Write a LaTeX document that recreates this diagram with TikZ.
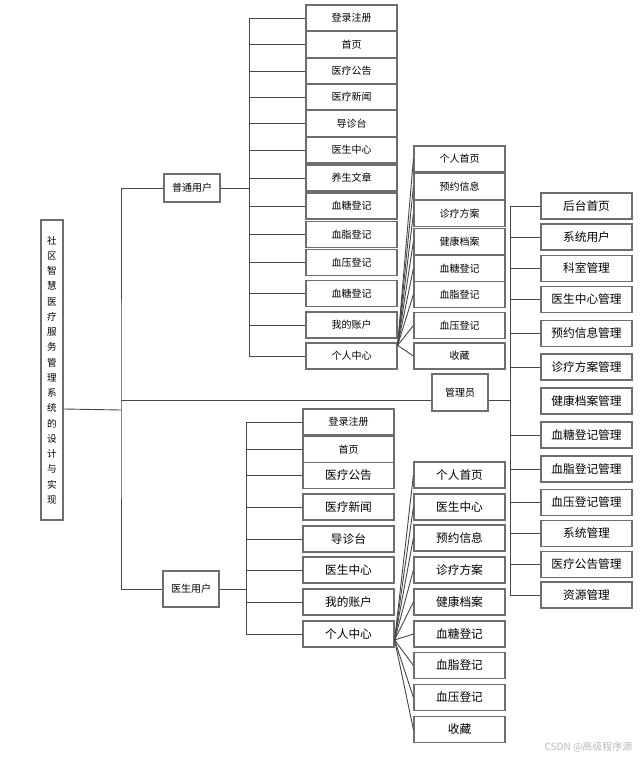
\documentclass[tikz,border=0pt]{standalone}
\usepackage{fontspec}
\setmainfont{Noto Sans CJK SC}
\usepackage{xcolor}
\usepackage{tikz}
\definecolor{boxgray}{RGB}{110,110,110}
\definecolor{linegray}{RGB}{70,70,70}
\definecolor{wmgray}{RGB}{185,185,185}

\begin{document}
\begin{tikzpicture}[
  x=1pt, y=-1pt,
  item/.style={draw=boxgray, line width=1.2pt, fill=white, minimum width=91pt,
               minimum height=26pt, inner sep=0pt, font=\fontsize{10}{12}\selectfont},
  bigitem/.style={item, font=\fontsize{11.7}{14}\selectfont},
  role/.style={item, minimum width=56pt, minimum height=28pt},
  conn/.style={draw=linegray, line width=0.9pt}
]
\useasboundingbox (0,0) rectangle (640,759);

% root and roles
\node[item, minimum width=22pt, minimum height=300pt, align=center,
      font=\fontsize{9.6}{15.25}\selectfont] (root) at (52,370)
  {社\\区\\智\\慧\\医\\疗\\服\\务\\管\\理\\系\\统\\的\\设\\计\\与\\实\\现};
\node[role] (nu) at (192,188) {普通用户};
\node[role, minimum height=36pt] (du) at (191,589) {医生用户};
\node[role, minimum height=37pt] (adm) at (460,392.5) {管理员};

% normal user
\node[item] (a1) at (351.5,18) {登录注册};
\node[item] (a2) at (351.5,44.5) {首页};
\node[item] (a3) at (351.5,71) {医疗公告};
\node[item] (a4) at (351.5,97) {医疗新闻};
\node[item] (a5) at (351.5,123.5) {导诊台};
\node[item] (a6) at (351.5,150) {医生中心};
\node[item] (a7) at (351.5,178) {养生文章};
\node[item] (a8) at (351.5,206) {血糖登记};
\node[item] (a9) at (351.5,234.5) {血脂登记};
\node[item] (a10) at (351.5,262.5) {血压登记};
\node[item] (a11) at (351.5,293.5) {血糖登记};
\node[item] (a12) at (351.5,325) {我的账户};
\node[item] (a13) at (351.5,356) {个人中心};

\node[item] (p1) at (459.5,159) {个人首页};
\node[item] (p2) at (459.5,186.5) {预约信息};
\node[item] (p3) at (459.5,213.5) {诊疗方案};
\node[item] (p4) at (459.5,241.5) {健康档案};
\node[item] (p5) at (459.5,268.5) {血糖登记};
\node[item] (p6) at (459.5,294.5) {血脂登记};
\node[item] (p7) at (459.5,325.5) {血压登记};
\node[item] (p8) at (459.5,356) {收藏};

% doctor
\node[item] (d1) at (348.5,422) {登录注册};
\node[item] (d2) at (348.5,449.5) {首页};
\node[bigitem] (d3) at (348.5,475.5) {医疗公告};
\node[bigitem] (d4) at (348.5,507) {医疗新闻};
\node[bigitem] (d5) at (348.5,539) {导诊台};
\node[bigitem] (d6) at (348.5,570) {医生中心};
\node[bigitem] (d7) at (348.5,602) {我的账户};
\node[bigitem] (d8) at (348.5,634) {个人中心};

\node[bigitem] (q1) at (459.5,475) {个人首页};
\node[bigitem] (q2) at (459.5,507) {医生中心};
\node[bigitem] (q3) at (459.5,538) {预约信息};
\node[bigitem] (q4) at (459.5,570) {诊疗方案};
\node[bigitem] (q5) at (459.5,602) {健康档案};
\node[bigitem] (q6) at (459.5,634) {血糖登记};
\node[bigitem] (q7) at (459.5,665.5) {血脂登记};
\node[bigitem] (q8) at (459.5,697.5) {血压登记};
\node[bigitem] (q9) at (459.5,729.5) {收藏};

% admin
\node[bigitem] (b1) at (586.5,206) {后台首页};
\node[bigitem] (b2) at (586.5,237) {系统用户};
\node[bigitem] (b3) at (586.5,268.5) {科室管理};
\node[bigitem] (b4) at (586.5,299.5) {医生中心管理};
\node[bigitem] (b5) at (586.5,333.5) {预约信息管理};
\node[bigitem] (b6) at (586.5,367) {诊疗方案管理};
\node[bigitem] (b7) at (586.5,401) {健康档案管理};
\node[bigitem] (b8) at (586.5,435) {血糖登记管理};
\node[bigitem] (b9) at (586.5,469) {血脂登记管理};
\node[bigitem] (b10) at (586.5,502.5) {血压登记管理};
\node[bigitem] (b11) at (586.5,533.5) {系统管理};
\node[bigitem] (b12) at (586.5,564.5) {医疗公告管理};
\node[bigitem] (b13) at (586.5,595) {资源管理};

\node[anchor=east, text=wmgray, font=\fontsize{10}{12}\selectfont] (wm) at (636,747) {CSDN @高级程序源};

% trunks
\coordinate (tr) at (121,410);
\coordinate (ntr) at (249,0);
\coordinate (dtr) at (246,0);
\coordinate (atr) at (510,0);
\coordinate (adml) at ([yshift=-8pt]adm.west);
\coordinate (admr) at ([yshift=-8pt]adm.east);
\coordinate (nfan) at ([yshift=-3pt]a13.north east);
\coordinate (dfan) at ([yshift=-6pt]d8.east);

\draw[conn] ([yshift=-39pt]root.east) -- (tr);
\draw[conn] (nu.west) -| (tr) |- (du.west);
\draw[conn] (tr |- adml) -- (adml);
\draw[conn] (admr) -- (atr |- admr);

\draw[conn] (nu.east) -- (ntr |- nu.east);
\draw[conn] (ntr |- a1.west) -- (ntr |- a13.west);
\foreach \n in {a1,a2,a3,a4,a5,a6,a7,a8,a9,a10,a11,a12,a13}
  \draw[conn] (ntr |- \n.west) -- (\n.west);
\foreach \n in {p1,p2,p3,p4,p5,p6,p7,p8}
  \draw[conn] (nfan) -- (\n.west);

\draw[conn] (du.east) -- (dtr |- du.east);
\draw[conn] (dtr |- d1.west) -- (dtr |- d8.west);
\foreach \n in {d1,d2,d3,d4,d5,d6,d7,d8}
  \draw[conn] (dtr |- \n.west) -- (\n.west);
\foreach \n in {q1,q2,q3,q4,q5,q6,q7,q8,q9}
  \draw[conn] (dfan) -- (\n.west);

\draw[conn] (atr |- b1.west) -- (atr |- b13.west);
\foreach \n in {b1,b2,b3,b4,b5,b6,b8,b9,b10,b11,b12,b13}
  \draw[conn] (atr |- \n.west) -- (\n.west);
\end{tikzpicture}
\end{document}
